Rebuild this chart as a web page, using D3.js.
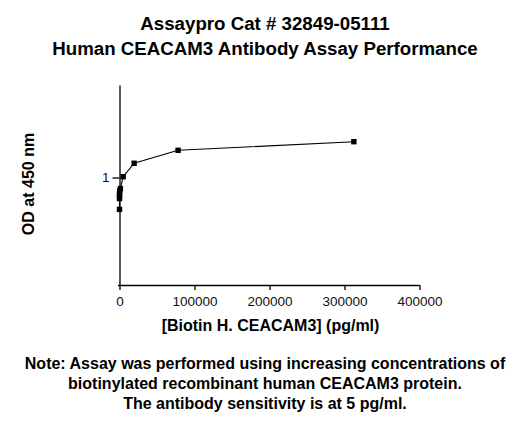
<!DOCTYPE html>
<html>
<head>
<meta charset="utf-8">
<script src="https://cdn.jsdelivr.net/npm/d3@7"></script>
<style>
  html, body { margin: 0; padding: 0; background: #fff; }
  svg { display: block; font-family: Arial, "Liberation Sans", sans-serif; }
</style>
</head>
<body>
<svg id="chart" width="530" height="425"></svg>
<script>
// ---- data ----
const concentrations = [0, 4.77, 19.07, 76.29, 305.18, 1220.7, 4882.8, 19531.25, 78125, 312500];
const odValues = [0.762, 0.836, 0.855, 0.875, 0.893, 0.910, 1.007, 1.129, 1.261, 1.357];
const xTicks = [0, 100000, 200000, 300000, 400000];
const yTicks = [1];
const titleLines = ["Assaypro Cat # 32849-05111", "Human CEACAM3 Antibody Assay Performance"];
const noteLines = [
  "Note: Assay was performed using increasing concentrations of",
  "biotinylated recombinant human CEACAM3 protein.",
  "The antibody sensitivity is at 5 pg/ml."
];
const xLabel = "[Biotin H. CEACAM3] (pg/ml)";
const yLabel = "OD at 450 nm";

const svg = d3.select("#chart");
const plotLeft = 119.5, plotRight = 419.5, plotTop = 85, plotBottom = 285;

const x = d3.scaleLinear().domain([0, 400000]).range([plotLeft, plotRight]);
const y = d3.scaleLog().domain([0.4, 2.2]).range([plotBottom, plotTop]);

// titles
svg.selectAll("text.title").data(titleLines).enter().append("text")
  .attr("class", "title")
  .attr("x", 265).attr("y", (d, i) => 29.5 + i * 25.5)
  .attr("text-anchor", "middle")
  .attr("font-size", "18.7px").attr("font-weight", "bold").attr("fill", "#000")
  .text(d => d);

// x axis
const gx = svg.append("g").attr("transform", `translate(0,${plotBottom})`)
  .call(d3.axisBottom(x).tickValues(xTicks).tickFormat(d3.format("d"))
    .tickSize(5).tickSizeOuter(0).tickPadding(6));
gx.select(".domain").attr("stroke", "#000").attr("stroke-width", 1.3)
  .attr("d", `M${plotLeft - 1.5},0.5H${plotRight}`);
gx.selectAll(".tick line").attr("stroke", "#000").attr("stroke-width", 1.3);
gx.selectAll(".tick text").attr("font-size", "13.5px").attr("fill", "#111")
  .attr("font-family", "Arial, 'Liberation Sans', sans-serif");

// y axis
const gy = svg.append("g").attr("transform", `translate(${plotLeft},0)`)
  .call(d3.axisLeft(y).tickValues(yTicks).tickFormat(d3.format("d"))
    .tickSize(7).tickSizeOuter(0).tickPadding(3));
gy.select(".domain").attr("stroke", "#000").attr("stroke-width", 1.3);
gy.selectAll(".tick line").attr("stroke", "#000").attr("stroke-width", 1.3);
gy.selectAll(".tick text").attr("font-size", "13.5px").attr("fill", "#111")
  .attr("font-family", "Arial, 'Liberation Sans', sans-serif");

// axis labels
svg.append("text")
  .attr("x", 270.5).attr("y", 331)
  .attr("text-anchor", "middle")
  .attr("font-size", "16px").attr("font-weight", "bold")
  .text(xLabel);

svg.append("text")
  .attr("transform", "translate(34,184) rotate(-90)")
  .attr("text-anchor", "middle")
  .attr("font-size", "16px").attr("font-weight", "bold")
  .text(yLabel);

// data
const pts = concentrations.map((c, i) => ({ c, v: odValues[i] }));
const line = d3.line().x(d => x(d.c)).y(d => y(d.v));
svg.append("path").datum(pts)
  .attr("d", line).attr("fill", "none")
  .attr("stroke", "#000").attr("stroke-width", 1.1);

svg.selectAll("rect.pt").data(pts).enter().append("rect")
  .attr("class", "pt")
  .attr("x", d => x(d.c) - 2.7).attr("y", d => y(d.v) - 2.7)
  .attr("width", 5.4).attr("height", 5.4)
  .attr("fill", "#000");

// note
svg.selectAll("text.note").data(noteLines).enter().append("text")
  .attr("class", "note")
  .attr("x", 265).attr("y", (d, i) => 369 + i * 20)
  .attr("text-anchor", "middle")
  .attr("font-size", "16px").attr("font-weight", "bold").attr("fill", "#000")
  .text(d => d);
</script>
</body>
</html>
